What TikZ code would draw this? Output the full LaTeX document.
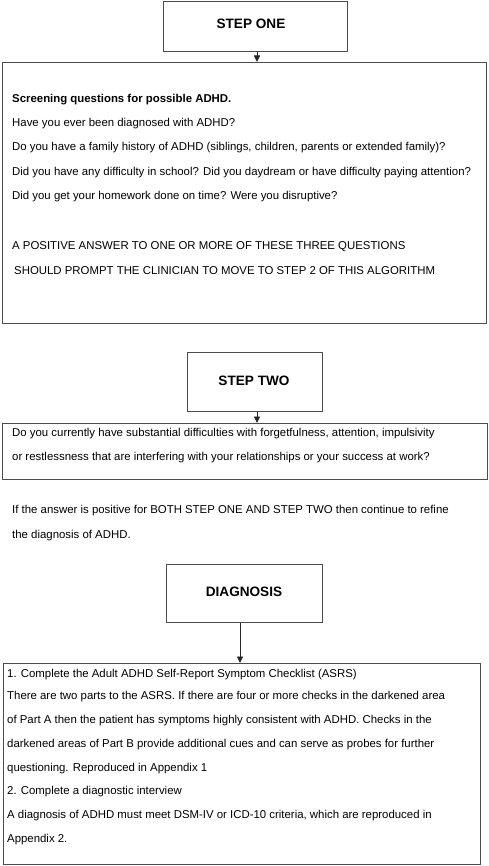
\documentclass[tikz,border=0pt]{standalone}
\usepackage{fontspec}
\setmainfont{Liberation Sans}
\usetikzlibrary{arrows.meta}
\begin{document}
\begin{tikzpicture}[x=1pt,y=-1pt,
  boxline/.style={draw=black!70, line width=0.9pt},
  title/.style={font=\fontsize{13.6}{15}\selectfont\bfseries},
  txt/.style={anchor=west, inner sep=0pt, font=\fontsize{11.4}{13}\selectfont},
  btxt/.style={txt, font=\fontsize{11.4}{13}\selectfont\bfseries},
  arr/.style={draw=black!85, line width=0.9pt, -{Stealth[length=6.5pt,width=6pt,inset=0pt]}}]
\useasboundingbox (0,0) rectangle (488,866);
% boxes
\node[boxline, minimum width=184pt, minimum height=50pt, anchor=north west, inner sep=0pt] (s1) at (163,1) {};
\node[title] (s1t) at (251,24) {STEP ONE};
\node[boxline, minimum width=484pt, minimum height=261pt, anchor=north west, inner sep=0pt] (b1) at (2,62) {};
\node[boxline, minimum width=135pt, minimum height=59pt, anchor=north west, inner sep=0pt] (s2) at (187,352) {};
\node[title] (s2t) at (254,381) {STEP TWO};
\node[boxline, minimum width=485pt, minimum height=56pt, anchor=north west, inner sep=0pt] (b2) at (2,423) {};
\node[boxline, minimum width=156pt, minimum height=58pt, anchor=north west, inner sep=0pt] (s3) at (166,564) {};
\node[title] (s3t) at (244,592) {DIAGNOSIS};
\node[boxline, minimum width=477pt, minimum height=201pt, anchor=north west, inner sep=0pt] (b3) at (3,663) {};
% arrows
\draw[arr] (s1.south -| 257,0) -- (b1.north -| 257,0);
\draw[arr] (s2.south -| 257,0) -- (b2.north -| 257,0);
\draw[arr] (s3.south -| 240,0) -- (b3.north -| 240,0);
% box 1 text
\node[btxt] (l1) at (12,100) {Screening questions for possible ADHD.};
\node[txt] (l2) at (12,124) {Have you ever been diagnosed with ADHD?};
\node[txt] (l3) at (12,148) {Do you have a family history of ADHD (siblings, children, parents or extended family)?};
\node[txt] (l4) at (12,173) {Did you have any difficulty in school? Did you daydream or have difficulty paying attention?};
\node[txt] (l5) at (12,197) {Did you get your homework done on time? Were you disruptive?};
\node[txt] (l6) at (12,247) {A POSITIVE ANSWER TO ONE OR MORE OF THESE THREE QUESTIONS};
\node[txt] (l7) at (14,271) {SHOULD PROMPT THE CLINICIAN TO MOVE TO STEP 2 OF THIS ALGORITHM};
% box 2 text
\node[txt] (m1) at (12,434) {Do you currently have substantial difficulties with forgetfulness, attention, impulsivity};
\node[txt] (m2) at (12,458) {or restlessness that are interfering with your relationships or your success at work?};
\node[txt] (p1) at (12,511) {If the answer is positive for BOTH STEP ONE AND STEP TWO then continue to refine};
\node[txt] (p2) at (12,536) {the diagnosis of ADHD.};
% box 3 text
\node[txt] (n1) at (7,675) {1. Complete the Adult ADHD Self-Report Symptom Checklist (ASRS)};
\node[txt] (n2) at (7,697) {There are two parts to the ASRS. If there are four or more checks in the darkened area};
\node[txt] (n3) at (7,721) {of Part A then the patient has symptoms highly consistent with ADHD. Checks in the};
\node[txt] (n4) at (7,745) {darkened areas of Part B provide additional cues and can serve as probes for further};
\node[txt] (n5) at (7,769) {questioning. Reproduced in Appendix 1};
\node[txt] (n6) at (7,792) {2. Complete a diagnostic interview};
\node[txt] (n7) at (7,816) {A diagnosis of ADHD must meet DSM-IV or ICD-10 criteria, which are reproduced in};
\node[txt] (n8) at (7,840) {Appendix 2.};
\end{tikzpicture}
\end{document}
